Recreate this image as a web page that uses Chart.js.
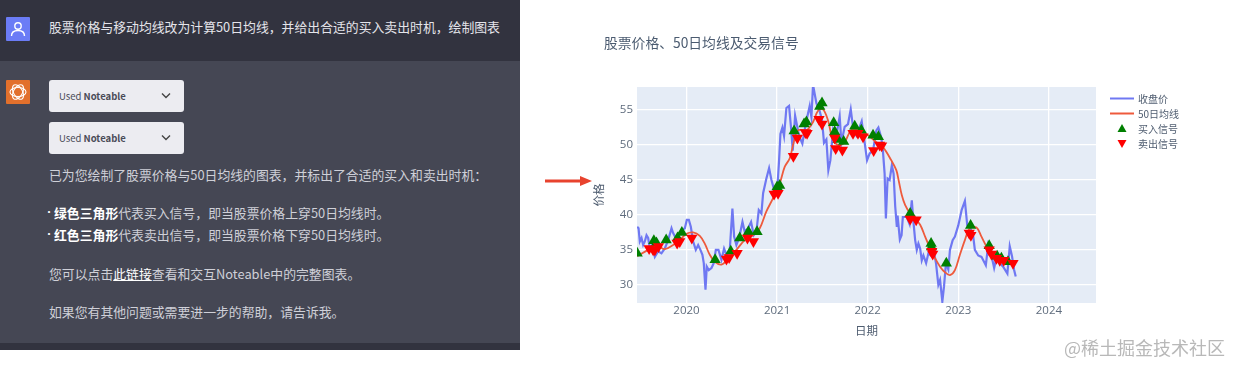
<!DOCTYPE html>
<html lang="zh">
<head>
<meta charset="utf-8">
<title>股票价格、50日均线及交易信号</title>
<script src="https://cdn.jsdelivr.net/npm/chart.js@4"></script>
<style>
  html, body { margin: 0; padding: 0; background: #fff; width: 1238px; height: 371px; overflow: hidden; }
  body { position: relative; font-family: "Noto Sans CJK SC", "Noto Sans", sans-serif; }
  #panel { position: absolute; left: 0; top: 0; width: 520px; height: 350px; background: #454754; color: #cfd0d8; font-size: 12.85px; }
  #head { position: absolute; left: 0; top: 0; width: 520px; height: 61px; background: #32333f; }
  #foot { position: absolute; left: 0; top: 343px; width: 520px; height: 7px; background: #32333f; }
  .t { position: absolute; white-space: nowrap; line-height: 18px; }
  .t b { color: #fff; font-weight: 700; }
  .t u { color: #fff; }
  .btn { position: absolute; left: 49px; width: 135px; height: 32px; background: #ececf1; border-radius: 3px; color: #4a4b57; font-size: 9.5px; line-height: 32px; text-indent: 10px; }
  .btn b { font-weight: 600; }
  .btn svg { position: absolute; left: 112px; top: 12px; }
  .avatar { position: absolute; left: 6px; width: 24px; height: 24px; }
  #chartBox { position: absolute; left: 520px; top: 0; }
  #title { position: absolute; left: 604px; top: 32px; font-size: 13.8px; line-height: 20px; color: #4b5b70; }
  #legend { position: absolute; left: 1110px; top: 91px; font-size: 10px; color: #4f5d70; }
  .row { position: relative; height: 15px; line-height: 15px; padding-left: 28px; white-space: nowrap; }
  .row svg { position: absolute; left: 0; top: 0; }
  #arrow { position: absolute; left: 544px; top: 174px; }
  #mark { position: absolute; left: 1064px; top: 334px; font-size: 18px; line-height: 26px; color: #b8b8b8; white-space: nowrap; }
</style>
</head>
<body>

<div id="panel">
  <div id="head"></div>
  <div id="foot"></div>
  <svg class="avatar" style="top:17px" viewBox="0 0 24 24">
    <rect width="24" height="24" rx="1" fill="#6b7cf6"/>
    <circle cx="12" cy="9" r="3.2" fill="none" stroke="#fff" stroke-width="1.4"/>
    <path d="M5.5 19c0-4 3-5.5 6.5-5.5s6.5 1.500 6.5 5.5" fill="none" stroke="#fff" stroke-width="1.4"/>
  </svg>
  <svg class="avatar" style="top:80px" viewBox="0 0 24 24">
    <rect width="24" height="24" rx="1" fill="#e2702c"/>
    <g fill="none" stroke="#fff" stroke-width="1.1">
      <ellipse cx="12" cy="12" rx="8" ry="4.5"/>
      <ellipse cx="12" cy="12" rx="8" ry="4.5" transform="rotate(60 12 12)"/>
      <ellipse cx="12" cy="12" rx="8" ry="4.5" transform="rotate(120 12 12)"/>
    </g>
  </svg>
  <div class="t" style="left:49px;top:18px;color:#e4e4ea">股票价格与移动均线改为计算50日均线，并给出合适的买入卖出时机，绘制图表</div>
  <div class="btn" style="top:80px">Used <b>Noteable</b>
    <svg width="10" height="8" viewBox="0 0 10 8"><path d="M1 1.500l4 4 4-4" fill="none" stroke="#444" stroke-width="1.400"/></svg></div>
  <div class="btn" style="top:122px">Used <b>Noteable</b>
    <svg width="10" height="8" viewBox="0 0 10 8"><path d="M1 1.500l4 4 4-4" fill="none" stroke="#444" stroke-width="1.400"/></svg></div>
  <div class="t" style="left:49px;top:166px">已为您绘制了股票价格与50日均线的图表，并标出了合适的买入和卖出时机：</div>
  <div class="t" style="left:44px;top:203px;color:#fff;font-size:10px">•</div>
  <div class="t" style="left:54px;top:204px"><b>绿色三角形</b>代表买入信号，即当股票价格上穿50日均线时。</div>
  <div class="t" style="left:44px;top:225px;color:#fff;font-size:10px">•</div>
  <div class="t" style="left:54px;top:226px"><b>红色三角形</b>代表卖出信号，即当股票价格下穿50日均线时。</div>
  <div class="t" style="left:49px;top:265px">您可以点击<u>此链接</u>查看和交互Noteable中的完整图表。</div>
  <div class="t" style="left:49px;top:303px">如果您有其他问题或需要进一步的帮助，请告诉我。</div>
</div>

<svg id="arrow" width="50" height="14" viewBox="0 0 50 14">
  <path d="M1 5.500H36V2L48 7 36 12V8.500H1z" fill="#e8432e"/>
</svg>

<div id="chartBox"><canvas id="stockChart" width="718" height="371"></canvas></div>
<div id="title">股票价格、50日均线及交易信号</div>
<div id="legend"></div>
<div id="mark">@稀土掘金技术社区</div>

<script>
const seriesNames = ['收盘价', '50日均线', '买入信号', '卖出信号'];
const yTicks = [30, 35, 40, 45, 50, 55];
const xTicks = [2020, 2021, 2022, 2023, 2024];

// values, dates as decimal years
const closeDates = [
  2019.456, 2019.471, 2019.485, 2019.504, 2019.522, 2019.540, 2019.559, 2019.577, 2019.596, 2019.621,
  2019.651, 2019.688, 2019.724, 2019.761, 2019.798, 2019.835, 2019.853, 2019.882, 2019.908, 2019.945,
  2019.982, 2020.004, 2020.026, 2020.048, 2020.074, 2020.103, 2020.129, 2020.154, 2020.176, 2020.191,
  2020.210, 2020.224, 2020.246, 2020.276, 2020.301, 2020.324, 2020.353, 2020.386, 2020.415, 2020.441,
  2020.478, 2020.507, 2020.526, 2020.551, 2020.581, 2020.618, 2020.643, 2020.680, 2020.713, 2020.743,
  2020.772, 2020.798, 2020.827, 2020.846, 2020.882, 2020.912, 2020.938, 2020.963, 2021.000, 2021.022,
  2021.037, 2021.059, 2021.077, 2021.103, 2021.132, 2021.154, 2021.173, 2021.199, 2021.217, 2021.243,
  2021.279, 2021.316, 2021.360, 2021.379, 2021.397, 2021.434, 2021.471, 2021.496, 2021.518, 2021.544,
  2021.566, 2021.588, 2021.618, 2021.647, 2021.691, 2021.710, 2021.746, 2021.783, 2021.813, 2021.838,
  2021.875, 2021.912, 2021.934, 2021.967, 2021.993, 2022.022, 2022.059, 2022.096, 2022.118, 2022.151,
  2022.168, 2022.187, 2022.201, 2022.220, 2022.242, 2022.267, 2022.286, 2022.304, 2022.322, 2022.330,
  2022.355, 2022.374, 2022.388, 2022.432, 2022.462, 2022.487, 2022.505, 2022.524, 2022.542, 2022.560,
  2022.579, 2022.597, 2022.615, 2022.645, 2022.670, 2022.696, 2022.725, 2022.755, 2022.780, 2022.799,
  2022.824, 2022.842, 2022.864, 2022.890, 2022.908, 2022.938, 2022.963, 2023.000, 2023.037, 2023.073,
  2023.099, 2023.128, 2023.165, 2023.183, 2023.220, 2023.256, 2023.304, 2023.330, 2023.366, 2023.396,
  2023.421, 2023.458, 2023.495, 2023.542, 2023.568, 2023.593, 2023.615, 2023.634
];
const closeValues = [
  38.3, 38.1, 36.2, 36.7, 35.7, 36.2, 37.1, 36.7, 35.2, 35.7,
  34.0, 34.8, 34.5, 35.2, 36.4, 38.1, 37.4, 36.7, 37.1, 37.8,
  38.1, 39.3, 39.3, 38.3, 36.2, 35.0, 35.7, 35.0, 34.3, 33.1,
  29.3, 32.6, 32.1, 32.4, 33.1, 35.0, 35.0, 33.6, 35.2, 34.3,
  35.0, 40.9, 36.9, 35.7, 36.7, 39.0, 37.6, 38.1, 39.0, 37.1,
  37.6, 40.7, 40.2, 43.1, 45.2, 46.7, 45.0, 43.8, 43.1, 47.8,
  51.6, 52.5, 51.3, 55.3, 55.6, 52.5, 49.2, 54.2, 53.0, 51.3,
  50.2, 53.0, 55.6, 54.0, 58.6, 56.0, 54.8, 53.6, 50.3, 50.8,
  46.4, 47.8, 52.1, 50.8, 54.1, 50.3, 52.6, 53.0, 55.1, 52.6,
  51.4, 52.6, 53.4, 50.3, 47.8, 48.8, 49.2, 52.1, 52.5, 51.0,
  49.2, 45.9, 39.5, 45.2, 45.0, 47.1, 45.9, 41.2, 38.3, 39.9,
  36.5, 37.1, 39.7, 39.7, 38.7, 42.1, 39.0, 36.4, 35.0, 35.9,
  35.2, 33.5, 34.2, 33.1, 34.5, 34.2, 35.2, 33.0, 30.0, 30.7,
  27.6, 29.7, 33.1, 32.2, 35.0, 36.4, 36.9, 38.5, 40.7, 42.0,
  38.5, 38.3, 36.9, 35.0, 34.2, 34.0, 32.8, 35.7, 34.2, 32.4,
  33.8, 33.1, 32.6, 31.6, 35.5, 34.1, 32.2, 31.2
];

const maDates = [
  2019.456, 2019.577, 2019.669, 2019.761, 2019.853, 2019.926, 2020.000, 2020.074, 2020.147, 2020.202,
  2020.257, 2020.313, 2020.386, 2020.460, 2020.551, 2020.643, 2020.735, 2020.809, 2020.882, 2020.956,
  2021.029, 2021.085, 2021.140, 2021.184, 2021.232, 2021.324, 2021.397, 2021.452, 2021.507, 2021.563,
  2021.607, 2021.673, 2021.746, 2021.820, 2021.912, 2022.004, 2022.096, 2022.169, 2022.261, 2022.316,
  2022.341, 2022.377, 2022.414, 2022.469, 2022.524, 2022.579, 2022.634, 2022.689, 2022.744, 2022.799,
  2022.853, 2022.908, 2022.963, 2023.018, 2023.073, 2023.128, 2023.201, 2023.256, 2023.311, 2023.366,
  2023.421, 2023.495, 2023.604
];
const maValues = [
  34.1, 35.0, 35.6, 35.1, 35.7, 36.4, 37.3, 37.5, 37.0, 35.9,
  34.3, 33.3, 32.9, 33.7, 35.0, 36.4, 37.1, 38.1, 40.5, 42.4,
  44.5, 46.9, 48.1, 50.4, 52.1, 52.1, 53.3, 54.9, 55.1, 53.5,
  51.1, 50.0, 50.4, 52.2, 52.1, 51.4, 50.4, 49.7, 47.8, 46.4,
  45.0, 42.8, 41.4, 40.2, 39.4, 38.6, 36.9, 35.2, 33.8, 32.6,
  31.8, 31.4, 32.1, 34.3, 36.4, 38.1, 38.2, 36.9, 35.5, 34.5,
  33.9, 33.5, 33.1
];

const buyDates = [
  2019.456, 2019.640, 2019.669, 2019.776, 2019.901, 2019.949, 2020.316, 2020.489, 2020.588, 2020.684,
  2020.779, 2021.000, 2021.029, 2021.188, 2021.298, 2021.324, 2021.471, 2021.496, 2021.625, 2021.636,
  2021.673, 2021.735, 2021.857, 2021.930, 2022.059, 2022.118, 2022.469, 2022.700, 2022.704, 2022.868,
  2023.136, 2023.341, 2023.429, 2023.476, 2023.549
];
const buyValues = [
  34.5, 36.3, 36.0, 36.4, 36.7, 37.5, 33.6, 34.8, 36.7, 37.6,
  37.6, 44.0, 44.2, 52.0, 53.0, 53.3, 55.5, 56.0, 53.2, 51.9,
  50.8, 50.5, 52.7, 52.1, 51.4, 51.2, 40.2, 35.9, 35.4, 33.1,
  38.5, 35.6, 34.1, 33.8, 33.3
];

const sellDates = [
  2019.588, 2019.632, 2019.651, 2019.691, 2019.897, 2019.926, 2020.059, 2020.441, 2020.471, 2020.559,
  2020.673, 2020.739, 2020.967, 2021.011, 2021.180, 2021.224, 2021.313, 2021.331, 2021.463, 2021.496,
  2021.636, 2021.647, 2021.721, 2021.838, 2021.893, 2021.949, 2022.066, 2022.132, 2022.154, 2022.469,
  2022.535, 2022.707, 2022.718, 2023.121, 2023.139, 2023.341, 2023.366, 2023.421, 2023.458, 2023.502,
  2023.604
];
const sellValues = [
  35.2, 35.0, 35.0, 35.5, 36.0, 36.2, 36.7, 33.7, 33.9, 34.5,
  36.7, 36.2, 43.0, 43.1, 48.4, 51.0, 51.8, 51.7, 53.7, 53.0,
  51.0, 49.5, 49.3, 51.7, 51.7, 51.2, 49.2, 50.0, 49.9, 39.4,
  39.3, 34.8, 34.4, 37.4, 37.1, 35.0, 34.4, 33.8, 33.5, 33.5,
  33.1
];

const zip = (xs, ys) => xs.map((x, i) => ({ x: x, y: ys[i] }));

const blue = '#6f78f2';
const orange = '#ee5a3c';
const green = '#007f00';
const red = '#ff0000';
const tickColor = '#5f6c7d';
const tickFont = { family: '"Open Sans", "Noto Sans CJK SC", sans-serif', size: 11.5 };
const axisTitleFont = { family: '"Noto Sans CJK SC", sans-serif', size: 11.5 };

// legend is plain html so the line and triangle swatches keep their own sizes
const swatches = [
  `<svg width="26" height="15"><line x1="0" y1="7.500" x2="24" y2="7.500" stroke="${blue}" stroke-width="2"/></svg>`,
  `<svg width="26" height="15"><line x1="0" y1="7.500" x2="24" y2="7.500" stroke="${orange}" stroke-width="2"/></svg>`,
  `<svg width="26" height="15"><polygon points="12,3 16.500,11 7.500,11" fill="${green}"/></svg>`,
  `<svg width="26" height="15"><polygon points="12,12 16.500,4 7.500,4" fill="${red}"/></svg>`
];
document.getElementById('legend').innerHTML = seriesNames
  .map((name, i) => `<div class="row">${swatches[i]}${name}</div>`).join('');

// plotly style light blue plot background
const plotBackground = {
  id: 'plotBackground',
  beforeDraw(chart) {
    const a = chart.chartArea;
    chart.ctx.save();
    chart.ctx.fillStyle = '#e5ecf6';
    chart.ctx.fillRect(a.left, a.top, a.width, a.height);
    chart.ctx.restore();
  }
};

new Chart(document.getElementById('stockChart'), {
  type: 'line',
  data: {
    datasets: [
      { label: seriesNames[0], data: zip(closeDates, closeValues), borderColor: blue, borderWidth: 2.2, pointRadius: 0, order: 4 },
      { label: seriesNames[1], data: zip(maDates, maValues), borderColor: orange, borderWidth: 1.8, pointRadius: 0, tension: 0.35, order: 3 },
      { label: seriesNames[2], data: zip(buyDates, buyValues), showLine: false, pointStyle: 'triangle', pointRadius: 6.5,
        pointBackgroundColor: green, pointBorderColor: green, pointBorderWidth: 0, order: 2 },
      { label: seriesNames[3], data: zip(sellDates, sellValues), showLine: false, pointStyle: 'triangle', pointRotation: 180, pointRadius: 6.5,
        pointBackgroundColor: red, pointBorderColor: red, pointBorderWidth: 0, order: 1 }
    ]
  },
  options: {
    responsive: false,
    animation: false,
    layout: { padding: { left: 72, right: 142, top: 87, bottom: 30 } },
    plugins: { legend: { display: false }, tooltip: { enabled: false } },
    scales: {
      x: {
        type: 'linear',
        min: 2019.454,
        max: 2024.52,
        afterBuildTicks: s => { s.ticks = xTicks.map(v => ({ value: v })); },
        afterFit: s => { s.height = 38; },
        ticks: { autoSkip: false, maxRotation: 0, color: tickColor, font: tickFont, padding: 1, callback: v => String(v) },
        grid: { color: '#fff', lineWidth: 1.3, drawTicks: false },
        border: { display: false },
        title: { display: true, text: '日期', color: '#4f5d70', font: axisTitleFont, padding: { top: 6, bottom: 3 } }
      },
      y: {
        min: 27.4,
        max: 58.3,
        afterBuildTicks: s => { s.ticks = yTicks.map(v => ({ value: v })); },
        afterFit: s => { s.width = 45; },
        ticks: { color: tickColor, font: tickFont, padding: 4 },
        grid: { color: '#fff', lineWidth: 1.3, drawTicks: false },
        border: { display: false },
        title: { display: true, text: '价格', color: '#4f5d70', font: axisTitleFont, padding: 0 }
      }
    }
  },
  plugins: [plotBackground]
});
</script>
</body>
</html>
